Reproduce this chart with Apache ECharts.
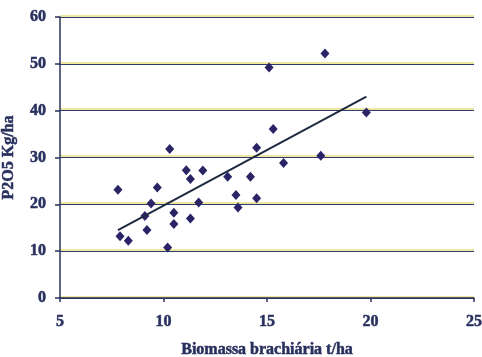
<!DOCTYPE html>
<html>
<head>
<meta charset="utf-8">
<script src="https://cdn.jsdelivr.net/npm/echarts@6/dist/echarts.min.js"></script>
<style>
  html, body { margin: 0; padding: 0; background: #fff; }
  #chart { width: 482px; height: 357px; }
</style>
</head>
<body>
<div id="chart"></div>
<script>
// biomassa (t/ha) x P2O5 (kg/ha)
const biomassa = [7.8, 7.9, 8.3, 9.1, 9.2, 9.4, 9.7, 10.3, 10.2, 10.5, 10.5, 11.1, 11.3, 11.3, 11.7, 11.9,
  13.1, 13.5, 13.6, 14.2, 14.5, 14.5, 15.1, 15.3, 15.8, 17.8, 17.6, 19.8]
const p2o5 = [23.1, 13.2, 12.2, 17.5, 14.5, 20.2, 23.6, 31.8, 10.8, 18.2, 15.8, 27.3, 25.4, 17.0, 20.4, 27.2,
  25.9, 22.0, 19.3, 25.9, 32.1, 21.3, 49.2, 36.1, 28.8, 52.2, 30.4, 39.6]
// linha de tendencia (extremos)
const trendX = [7.8, 19.8]
const trendY = [14.5, 43.0]

const xTicks = [5, 10, 15, 20, 25]
const yTicks = [0, 10, 20, 30, 40, 50, 60]

const navy = '#28305e'
const labelFont = {
  fontFamily: 'Liberation Serif',
  fontWeight: 'bold',
  color: navy,
  textBorderColor: navy,
  textBorderWidth: 0.5
}

const points = biomassa.map((x, i) => [x, p2o5[i]])
const trend = trendX.map((x, i) => [x, trendY[i]])

const chart = echarts.init(document.getElementById('chart'))
chart.setOption({
  animation: false,
  grid: { left: 60, right: 8, top: 17, bottom: 59, outerBoundsMode: 'none', containLabel: false },
  xAxis: {
    type: 'value',
    min: xTicks[0],
    max: xTicks[xTicks.length - 1],
    interval: 5,
    name: 'Biomassa brachiária t/ha',
    nameLocation: 'middle',
    nameGap: 44,
    nameTextStyle: Object.assign({ fontSize: 16 }, labelFont),
    axisLine: { lineStyle: { color: navy, width: 1.5 } },
    axisTick: { length: 4, lineStyle: { color: navy, width: 1.5 } },
    axisLabel: Object.assign({ fontSize: 16, margin: 16 }, labelFont),
    splitLine: { show: false }
  },
  yAxis: {
    type: 'value',
    min: yTicks[0],
    max: yTicks[yTicks.length - 1],
    interval: 10,
    name: 'P2O5 Kg/ha',
    nameLocation: 'middle',
    nameGap: 43,
    nameRotate: 90,
    nameTextStyle: Object.assign({ fontSize: 16 }, labelFont),
    axisLine: { show: true, lineStyle: { color: navy, width: 1.5 } },
    axisTick: { show: true, length: 5, lineStyle: { color: navy, width: 1.5 } },
    axisLabel: Object.assign({ fontSize: 16, margin: 14 }, labelFont),
    splitLine: {
      show: true,
      lineStyle: {
        color: '#2d3c78',
        width: 1.2,
        shadowColor: '#e0cf3a',
        shadowOffsetY: -1.5,
        shadowBlur: 0
      }
    }
  },
  series: [
    {
      type: 'scatter',
      data: points,
      symbol: 'diamond',
      symbolSize: [9, 10],
      itemStyle: { color: '#2a2466', opacity: 1 }
    },
    {
      type: 'line',
      data: trend,
      symbol: 'none',
      lineStyle: { color: '#1e2a40', width: 2 }
    }
  ]
})
</script>
</body>
</html>
